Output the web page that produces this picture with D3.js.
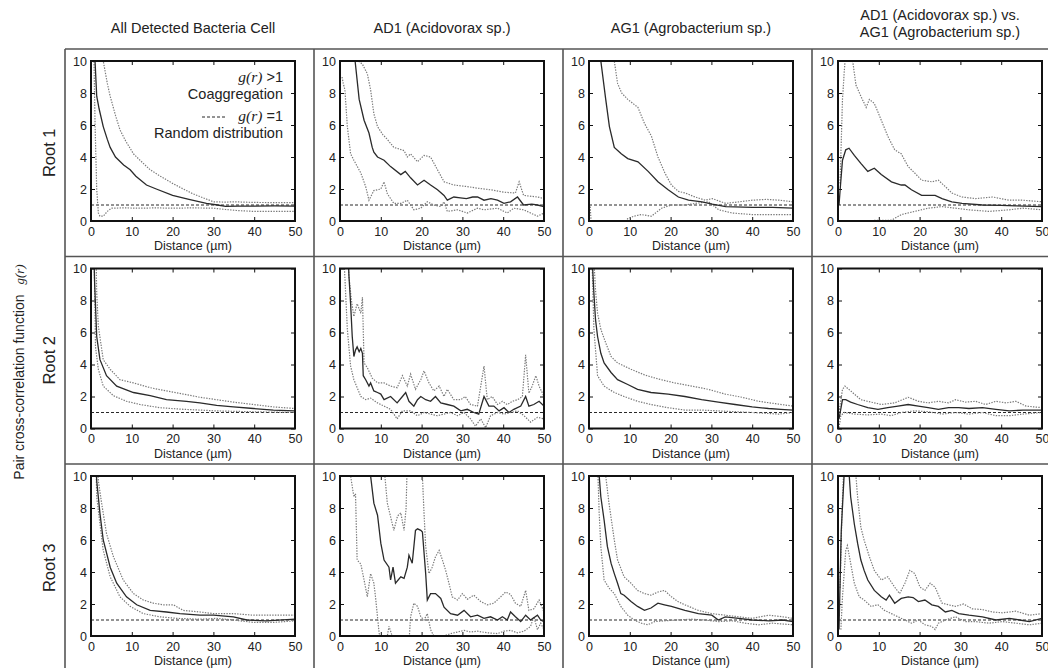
<!DOCTYPE html>
<html><head><meta charset="utf-8">
<script src="https://cdn.jsdelivr.net/npm/d3@7"></script>
<style>
body{margin:0;background:#fff;}
svg{display:block;font-family:Arial,"Liberation Sans",sans-serif;}
</style></head><body>
<svg id="chart" width="1048" height="668"></svg>
<script>
// Column headings, row headings and tick values
const columnTitles = [["All Detected Bacteria Cell"], ["AD1 (Acidovorax sp.)"], ["AG1 (Agrobacterium sp.)"], ["AD1 (Acidovorax sp.) vs.", "AG1 (Agrobacterium sp.)"]];
const rowTitles = ["Root 1", "Root 2", "Root 3"];
const xTicks = [0, 10, 20, 30, 40, 50];
const yTicks = [0, 2, 4, 6, 8, 10];
const randomLevel = 1;

// g(r) curves as [distance µm, g(r)] : observed mean plus upper / lower envelopes
const root1AllMean = [[0.4,16],[0.8,11],[1.4,7.8],[2,7.0],[3,5.9],[4,5.1],[4.7,4.6],[6,4.0],[8,3.5],[9.6,3.2],[11,2.8],[13.6,2.25],[16,2.0],[20,1.6],[24,1.35],[28.3,1.1],[31,1.0],[33,0.92],[36,0.93],[40,0.93],[45,0.94],[50,0.93]];
const root1AllUpper = [[2.2,16],[3,10],[4,8.6],[4.7,7.8],[6,6.6],[7.1,5.7],[8.5,5.0],[10.4,4.2],[12,3.8],[14.5,3.2],[17,2.8],[20,2.35],[23,1.95],[25,1.7],[28,1.4],[30,1.2],[33,1.18],[35,1.2],[40,1.16],[45,1.15],[50,1.15]];
const root1AllLower = [[0.6,12],[1,6],[1.4,2],[1.8,0.5],[2.2,0.3],[3,0.3],[4,0.6],[5,0.8],[8,0.82],[12,0.8],[16,0.82],[20,0.8],[25,0.82],[30,0.8],[33,0.72],[36,0.65],[40,0.6],[45,0.6],[50,0.6]];

const root1Ad1Mean = [[3.2,12],[3.7,10],[4.7,7.6],[5.9,6.3],[7.1,5.5],[7.9,4.6],[8.3,4.3],[9.2,4.0],[10.8,3.8],[12.4,3.4],[14.9,2.9],[16,3.1],[17.3,2.7],[19,2.25],[20.6,2.55],[22.2,2.25],[23.9,1.95],[25.5,1.6],[26.3,1.3],[27.9,1.5],[29.5,1.45],[31,1.4],[32.5,1.5],[33.7,1.5],[35.3,1.3],[37,1.4],[38.6,1.3],[40.2,1.1],[41.8,1.2],[43.5,1.5],[45,1.0],[47,1.05],[48.4,1.0],[50,0.9]];
const root1Ad1Upper = [[3.8,12],[4.5,10],[5.5,9.8],[6.7,9.2],[7.5,8.2],[8.3,6.7],[9.2,5.9],[10.5,5.4],[11.6,5.1],[13.2,4.6],[14.5,4.5],[15.7,4.4],[16.5,4.0],[17.3,4.2],[19,3.7],[20.6,4.1],[22.2,4.0],[23.9,3.2],[25.5,2.45],[27.9,2.25],[31.2,2.15],[33.7,2.05],[36.9,1.95],[40.2,1.8],[43,1.75],[43.9,2.45],[45,1.6],[48.4,1.5],[50,1.4]];
const root1Ad1Lower = [[0.5,9],[0.8,8.6],[1.2,8.2],[1.8,5.9],[2.6,4.2],[3.4,3.8],[5.1,3.0],[6.3,2.15],[7.1,1.3],[8.3,1.9],[10,2.0],[10.8,2.45],[11.6,1.7],[13.2,1.1],[14.9,1.1],[16.5,1.3],[18.1,0.7],[19.8,0.8],[21.4,1.2],[23,1.0],[24.7,0.9],[25.5,1.2],[26.3,0.6],[28.8,0.7],[31.2,0.5],[33.7,0.8],[35.3,0.7],[38.6,0.8],[41,0.5],[42.6,0.8],[45,0.7],[48.4,0.3],[50,0.5]];

const root1Ag1Mean = [[2.5,12],[2.9,10],[4.1,7.6],[5,5.9],[6.2,4.6],[7.9,4.2],[9.5,3.9],[12,3.7],[14.5,3.1],[16.9,2.45],[19.4,1.95],[21.9,1.5],[24.4,1.3],[27.7,1.2],[30.2,1.05],[33.5,0.9],[40,0.85],[45,0.85],[50,0.8]];
const root1Ag1Upper = [[5.8,12],[6.2,10],[7,8.6],[8,8.0],[9.5,7.6],[12,7.1],[13.6,6.1],[15.3,5.3],[16.9,4.0],[18.6,3.0],[20.2,2.25],[21.9,1.85],[23.6,1.75],[26,1.5],[28.5,1.3],[30.2,1.4],[33.5,1.1],[36.8,1.2],[40,1.3],[43.4,1.35],[46.7,1.3],[50,1.2]];
const root1Ag1Lower = [[0.3,0.9],[0.5,0],[9,0],[9.5,0.15],[11,0.3],[12.8,0.4],[15.3,0.3],[17.8,0.8],[20.2,1.0],[23.6,1.0],[26,1.1],[29.3,1.2],[31.8,0.7],[35.1,0.5],[40,0.4],[45,0.4],[50,0.4]];

const root1PairMean = [[0.25,1.0],[0.6,2.2],[1.1,3.8],[1.9,4.45],[2.7,4.55],[4,4.1],[5.6,3.6],[7.3,3.1],[8.9,3.3],[10.6,2.9],[13.1,2.45],[15.5,2.25],[16.4,2.25],[18,1.95],[20.5,1.6],[23.8,1.6],[25.5,1.4],[27.9,1.2],[30.4,1.1],[35.4,1.0],[40,0.98],[43.6,0.95],[50,0.9]];
const root1PairUpper = [[0.5,2.35],[1.1,7.6],[1.5,9.2],[2,11],[3.2,11],[3.6,10],[4.4,8.5],[5.6,7.8],[6.9,7.1],[7.7,7.6],[8.9,7.35],[10.6,6.3],[12.2,5.3],[13.9,4.45],[15.5,4.2],[17.2,3.4],[18.8,3.0],[20.5,2.55],[23,2.45],[24.6,2.55],[26.3,2.15],[27.9,1.75],[30.4,1.5],[33.7,1.4],[37.9,1.5],[42,1.3],[45.3,1.3],[50,1.2]];
const root1PairLower = [[0.25,0],[13.1,0.05],[15.5,0.4],[18.8,0.6],[22.1,0.8],[25.5,0.9],[28.8,0.8],[32,0.7],[37,0.6],[42,0.7],[45.3,0.8],[50,0.7]];

const root2AllMean = [[0.6,12],[0.9,9],[1.4,5.75],[2.2,4.3],[3.8,3.3],[6.3,2.65],[10.4,2.25],[14.5,2.05],[18.5,1.8],[23.4,1.7],[26.7,1.6],[30.8,1.45],[34.9,1.35],[39.8,1.25],[44.7,1.15],[50,1.1]];
const root2AllUpper = [[1.0,14],[1.4,8.5],[1.8,6.4],[3,4.3],[4.7,3.7],[7.1,3.05],[10.4,2.85],[14.5,2.55],[18.5,2.35],[22.6,2.15],[26.7,1.95],[30.8,1.8],[34.9,1.65],[39.8,1.5],[44.7,1.35],[50,1.25]];
const root2AllLower = [[0.7,12],[1.1,5.1],[1.8,3.7],[3,2.65],[5.5,2.05],[8.7,1.7],[12,1.5],[16.9,1.3],[22.6,1.2],[30.8,1.1],[39,1.05],[50,1.0]];

const root2Ad1Mean = [[1.8,12],[2.2,9.5],[2.6,7.8],[3,5.75],[3.4,4.5],[3.8,4.9],[4.2,5.1],[4.7,4.8],[5.1,5.0],[5.5,4.7],[5.7,3.3],[6.3,3.05],[7.1,2.65],[7.5,2.85],[8.3,2.35],[9.2,2.25],[10,2.15],[10.8,1.8],[12.4,2.0],[14,1.6],[15.3,2.0],[16.1,2.25],[16.9,1.7],[18.1,1.4],[19,1.8],[19.8,2.0],[21,1.8],[22.2,1.7],[23.4,2.0],[24.7,1.6],[26.3,1.5],[27.9,1.4],[29.6,1.1],[31.2,1.2],[32.8,1.0],[34,0.9],[35.3,2.0],[36.5,1.4],[37.7,1.4],[39,1.1],[40.2,1.3],[41.4,1.0],[42.6,1.2],[44.3,1.4],[45.5,2.0],[46.3,1.4],[47.5,1.5],[48.8,1.7],[50,1.4]];
const root2Ad1Upper = [[1.6,12],[2.2,9.5],[2.8,8.0],[3.4,7.0],[4.2,7.8],[5.1,7.2],[5.5,8.2],[5.9,4.1],[6.7,3.8],[7.9,3.15],[9.2,2.85],[10.8,2.85],[12.4,2.65],[14,2.55],[15.3,3.3],[16.5,2.65],[17.3,3.4],[18.5,2.45],[19.8,3.05],[20.6,3.6],[21.8,2.85],[23,2.35],[24.3,2.65],[25.5,2.0],[26.3,2.45],[27.9,1.8],[29.6,1.8],[30.7,2.0],[32,1.5],[33.7,1.4],[35.3,3.9],[36.1,1.8],[37.3,2.0],[38.6,1.5],[39.8,1.7],[41,1.5],[42.2,1.7],[43.5,1.8],[44.7,2.0],[45.5,4.6],[46.3,2.2],[47.1,2.65],[48,3.3],[48.8,2.65],[50,2.0]];
const root2Ad1Lower = [[1,10.5],[1.8,6.2],[2.6,3.9],[3.4,3.05],[4.2,2.55],[5.1,2.0],[6.3,1.8],[7.5,1.9],[9.2,1.6],[10.8,1.4],[12.4,1.2],[14,0.6],[15.3,1.1],[17.3,1.1],[19,0.8],[20.6,1.0],[22.2,0.9],[23.8,0.8],[25.5,0.9],[27.1,1.0],[28.8,0.8],[30.4,1.0],[32,0.6],[33.2,0.15],[34.5,0.6],[35.7,0.05],[36.9,0.8],[38.6,1.0],[40.2,0.9],[41.8,1.0],[43.5,1.1],[45.1,0.8],[46.7,0.4],[48.4,0.7],[50,0.6]];

const root2Ag1Mean = [[0.6,14],[0.8,10.5],[1.2,8.45],[1.6,6.8],[2.1,5.75],[2.9,4.7],[3.7,4.1],[5.4,3.5],[7,3.05],[9.5,2.75],[11.9,2.45],[15.2,2.25],[19.4,2.15],[23.5,2.0],[27.6,1.8],[31.7,1.65],[35.8,1.5],[40,1.35],[44,1.25],[47,1.2],[50,1.15]];
const root2Ag1Upper = [[0.8,14],[1.2,10.5],[1.6,8.65],[2.1,7.2],[2.9,6.2],[4.1,5.35],[5.4,4.5],[7,4.1],[10.3,3.7],[13.6,3.35],[16.9,3.1],[21,2.85],[25.1,2.65],[29.2,2.45],[33.4,2.15],[37.5,1.95],[41.6,1.7],[45.7,1.55],[50,1.4]];
const root2Ag1Lower = [[0.6,14],[0.8,10],[1.2,6.2],[2.1,3.3],[3.7,2.65],[6.2,2.25],[8.6,2.0],[11.9,1.7],[15.2,1.5],[19.4,1.3],[23.5,1.15],[27.6,1.15],[31.7,1.1],[40,1.0],[46.5,0.9],[50,1.0]];

const root2PairMean = [[0.25,0.6],[1.1,1.8],[1.9,1.8],[3.1,1.65],[4.8,1.5],[7.3,1.3],[9.8,1.2],[12.2,1.3],[14.7,1.4],[17.2,1.5],[19.7,1.4],[22.1,1.3],[24.6,1.2],[27.1,1.3],[29.6,1.3],[32.1,1.25],[35.4,1.3],[38.7,1.2],[42,1.1],[45.3,1.15],[50,1.15]];
const root2PairUpper = [[0.25,1.0],[1.1,2.45],[1.7,2.65],[3.1,2.35],[5.6,1.8],[8.1,1.65],[10.6,1.5],[13.9,1.6],[17.2,1.95],[19.7,1.7],[22.1,1.6],[24.6,1.7],[27.1,1.6],[28.8,1.8],[31.2,1.65],[33.7,1.7],[36.2,1.5],[38.7,1.7],[41.2,1.6],[43.6,1.7],[46.1,1.4],[50,1.3]];
const root2PairLower = [[0.25,0.05],[0.7,0.8],[1.5,1.0],[4,0.9],[7.3,0.85],[10.6,0.9],[13,0.8],[15.5,1.0],[18.8,1.1],[22.1,1.05],[25.5,0.9],[28.8,1.0],[32.1,0.9],[35.4,1.0],[38.7,0.8],[42,0.8],[45.3,0.9],[50,1.0]];

const root3AllMean = [[1.0,12],[1.4,9.7],[2.2,7.65],[3,6.0],[4.7,4.3],[6.3,3.3],[8.7,2.45],[11.2,1.95],[14.5,1.6],[18.5,1.5],[21.8,1.4],[26.7,1.3],[30,1.3],[34.9,1.2],[38.2,1.0],[43,0.95],[50,1.05]];
const root3AllUpper = [[1.4,12],[1.8,9.7],[2.6,8.3],[3.8,6.4],[5.5,4.95],[7.9,3.5],[10.4,2.65],[12.8,2.25],[15.3,2.05],[17.7,1.95],[20.2,1.95],[22.6,1.6],[26.7,1.5],[30,1.4],[34.9,1.4],[39.8,1.3],[45,1.3],[50,1.3]];
const root3AllLower = [[1.2,11],[1.4,8.7],[2.2,7.0],[3,5.35],[4.7,3.7],[7.1,2.45],[9.6,1.85],[12.8,1.4],[16.9,1.2],[21,1.1],[26.7,1.05],[30.8,1.1],[34.9,1.0],[39.8,0.85],[44.7,0.85],[50,0.95]];

const root3Ad1Mean = [[7,12],[7.5,10],[8.3,8.3],[9.2,7.55],[10,5.8],[10.8,4.75],[12,4.3],[12.4,3.5],[13,4.3],[13.6,3.3],[14.9,3.7],[15.7,3.6],[16.5,4.3],[16.9,5.05],[17.7,4.55],[18.5,6.6],[19,6.7],[19.8,6.6],[20.2,6.5],[21,3.9],[21.4,2.25],[22.2,2.65],[23.4,2.65],[24.7,2.35],[25.5,1.8],[27.1,1.4],[28.8,1.3],[30.4,1.6],[32,1.2],[33.7,1.3],[35.3,1.1],[36.9,1.2],[38.6,1.0],[39.8,1.2],[41,1.0],[41.8,1.5],[43,1.2],[44.3,0.9],[45.5,1.3],[46.7,1.0],[48.4,1.3],[49.2,1.0],[50,0.9]];
const root3Ad1Upper = [[10.4,12],[11,10],[11.6,8.3],[12.4,7.45],[13.2,6.6],[14.1,7.5],[14.9,7.7],[15.7,6.6],[16.2,8],[16.5,11],[20,11],[20.2,10],[20.6,7.65],[21,5.6],[21.8,3.9],[22.6,4.3],[23.4,4.95],[24.3,5.35],[25.1,4.75],[25.9,4.1],[26.7,3.3],[27.5,2.45],[28.8,2.25],[30,2.65],[31.2,2.3],[32.8,2.55],[34.5,2.15],[36.1,1.95],[37.7,2.05],[39.4,2.45],[40.6,2.75],[41.8,2.6],[43,2.05],[44.3,1.85],[45.5,2.85],[46.3,1.6],[47.5,1.7],[48.8,2.25],[50,1.5]];
const root3Ad1Lower = [[2.4,12],[2.6,10],[3.4,8.7],[3.8,8.9],[4.2,4.75],[5.1,4.5],[5.9,3.5],[6.7,2.45],[7.5,3.9],[8.3,3.3],[8.7,2.45],[9.6,0.15],[10,0],[11.6,0],[12,0.6],[12.8,0],[17,0],[17.3,1.2],[18.1,2.05],[19,1.85],[19.8,1.2],[20.6,1.0],[21.4,1.4],[22.2,0.4],[23,0],[25.5,0],[27.1,0.15],[28.8,0.25],[30.4,0.35],[32,0.25],[33.7,0.3],[36.1,0.2],[38.6,0.15],[40.2,0.3],[41.8,0.35],[43.5,0.2],[45.1,0.3],[46.7,0.6],[47.5,1.2],[48.4,0.4],[49.2,0.8],[50,0.4]];

const root3Ag1Mean = [[2.2,12],[2.5,10],[2.9,8.7],[3.7,7.25],[4.5,5.6],[5.4,4.55],[6.2,3.9],[7,3.3],[7.8,2.65],[8.6,2.55],[10.3,2.15],[11.9,1.85],[13.6,1.6],[15.2,1.75],[16.9,2.05],[18.5,1.95],[20.2,1.85],[23.5,1.6],[26.8,1.4],[30.1,1.3],[31.7,1.0],[33.4,1.2],[36.7,1.1],[40,1.0],[44.1,0.95],[47.5,1.0],[50,0.9]];
const root3Ag1Upper = [[3.8,12],[4.1,10],[4.9,8.3],[6.2,6.0],[7,4.75],[8.6,3.7],[10.3,3.3],[11.9,2.85],[13.6,2.65],[15.2,2.55],[16.9,2.75],[18.5,2.85],[20.2,2.45],[21.8,2.15],[23.5,1.95],[26.8,1.6],[30.1,1.4],[33.4,1.3],[36.7,1.2],[40,1.1],[44.1,1.3],[47.5,1.2],[50,1.1]];
const root3Ag1Lower = [[1.9,12],[2.2,10],[2.5,7.65],[2.9,5.6],[3.7,3.5],[4.9,3.0],[6.2,2.65],[7,2.25],[7.8,1.85],[9.5,1.3],[11.1,1.0],[12.8,0.8],[14.4,0.7],[16.1,0.9],[18.5,0.95],[21.8,1.0],[25.1,1.05],[28.4,1.0],[31.7,0.9],[35,0.95],[38.3,0.8],[41.6,0.7],[44.9,0.8],[50,0.7]];

const root3PairMean = [[0.25,0.4],[0.8,6.6],[1.3,9.1],[1.7,11],[2.5,11],[3.1,8.7],[4,7.0],[4.8,5.8],[5.6,4.75],[6.4,4.1],[7.3,3.5],[8.9,2.85],[10.6,2.45],[11.8,2.25],[12.6,2.55],[13.9,2.05],[15.5,2.35],[17.2,2.45],[18.4,2.4],[19.7,2.15],[21.3,2.25],[23,1.95],[24.6,1.85],[26.3,1.5],[27.9,1.6],[29.6,1.4],[32.1,1.3],[35.4,1.2],[38.7,1.0],[42,1.1],[44.5,1.0],[46.9,0.9],[50,1.1]];
const root3PairUpper = [[0.5,3],[1.0,8],[1.5,11],[4.2,11],[4.4,10],[4.8,8.7],[5.6,6.8],[6.4,6.0],[7.7,4.95],[8.9,4.1],[10.6,3.5],[12.2,3.7],[13.9,3.05],[15.1,2.65],[16.4,3.3],[17.6,4.1],[18.8,3.9],[20.1,3.05],[21.3,2.85],[22.6,3.3],[23.8,3.05],[25.5,2.05],[27.1,1.95],[28.8,1.85],[30.8,2.0],[32.9,1.7],[35.4,1.65],[37.9,1.5],[40.3,1.45],[43.6,1.55],[46.9,1.3],[50,1.4]];
const root3PairLower = [[0.7,0.4],[1.1,2.45],[1.9,5.35],[2.3,5.65],[3.1,4.55],[4,3.3],[5.2,2.45],[6.4,2.25],[8.1,1.85],[9.8,1.95],[11.4,1.6],[13.1,1.4],[14.7,1.2],[16.4,1.0],[18,0.8],[19.7,1.0],[21.3,0.7],[23,0.6],[23.8,0.4],[24.6,0.8],[26.3,1.0],[28.8,1.2],[31.2,0.9],[33.7,0.9],[37,0.8],[40.3,0.9],[43.6,0.8],[46.9,0.7],[50,0.8]];

// Panel table: [row][column] -> curves
const panelCurves = [
  [[root1AllMean, root1AllUpper, root1AllLower], [root1Ad1Mean, root1Ad1Upper, root1Ad1Lower], [root1Ag1Mean, root1Ag1Upper, root1Ag1Lower], [root1PairMean, root1PairUpper, root1PairLower]],
  [[root2AllMean, root2AllUpper, root2AllLower], [root2Ad1Mean, root2Ad1Upper, root2Ad1Lower], [root2Ag1Mean, root2Ag1Upper, root2Ag1Lower], [root2PairMean, root2PairUpper, root2PairLower]],
  [[root3AllMean, root3AllUpper, root3AllLower], [root3Ad1Mean, root3Ad1Upper, root3Ad1Lower], [root3Ag1Mean, root3Ag1Upper, root3Ag1Lower], [root3PairMean, root3PairUpper, root3PairLower]]
];

// ---- layout ----
const svg = d3.select("#chart");
const gridLeft = 65, gridTop = 49, cellW = 249, cellH = 207.5;
const plotOffX = 26, plotOffY = 12, plotW = 204, plotH = 160;
const gridColor = "#555";
const ink = "#222";
const serif = "'Liberation Serif','Times New Roman',serif";

// table rules
const gridG = svg.append("g").attr("stroke", gridColor).attr("stroke-width", 1.6);
for (let c = 0; c <= 4; c++) {
  gridG.append("line").attr("x1", gridLeft + c * cellW).attr("x2", gridLeft + c * cellW)
    .attr("y1", gridTop).attr("y2", gridTop + 3 * cellH + 10);
}
for (let r = 0; r <= 3; r++) {
  gridG.append("line").attr("x1", gridLeft).attr("x2", gridLeft + 4 * cellW + 10)
    .attr("y1", gridTop + r * cellH).attr("y2", gridTop + r * cellH);
}

// column titles
columnTitles.forEach((lines, c) => {
  const cx = gridLeft + c * cellW + plotOffX + plotW / 2;
  const t = svg.append("text").attr("text-anchor", "middle").attr("font-size", 14.5).attr("fill", ink);
  const y0 = lines.length === 1 ? 33 : 20;
  lines.forEach((s, i) => t.append("tspan").attr("x", cx).attr("y", y0 + i * 17).text(s));
});

// row titles
rowTitles.forEach((s, r) => {
  const cy = gridTop + r * cellH + cellH / 2;
  svg.append("text").attr("transform", `translate(55,${cy}) rotate(-90)`)
    .attr("text-anchor", "middle").attr("font-size", 16.5).attr("fill", ink).text(s);
});

// shared y label
const yl = svg.append("text").attr("transform", "translate(24,372) rotate(-90)")
  .attr("text-anchor", "middle").attr("font-size", 14).attr("fill", ink);
yl.append("tspan").text("Pair cross-correlation function");
yl.append("tspan").attr("dx", 10).attr("font-family", serif).attr("font-style", "italic").attr("font-size", 13).text("g(r)");

const line = d3.line();

panelCurves.forEach((rowCurves, r) => {
  rowCurves.forEach((curves, c) => {
    const px = gridLeft + c * cellW + plotOffX;
    const py = gridTop + r * cellH + plotOffY;
    const x = d3.scaleLinear().domain([0, 50]).range([px, px + plotW]);
    const y = d3.scaleLinear().domain([0, 10]).range([py + plotH, py]);
    const id = `clip-${r}-${c}`;
    svg.append("clipPath").attr("id", id).append("rect")
      .attr("x", px).attr("y", py).attr("width", plotW).attr("height", plotH);

    const g = svg.append("g");
    const styleAxis = sel => {
      sel.select(".domain").remove();
      sel.selectAll("text").attr("font-size", 12.5).attr("font-family", "Arial, 'Liberation Sans', sans-serif").attr("fill", ink);
      sel.selectAll("line").attr("stroke", "#111");
    };
    g.append("g").attr("transform", `translate(0,${py + plotH})`)
      .call(d3.axisBottom(x).tickValues(xTicks).tickSizeInner(-4).tickSizeOuter(0).tickPadding(6)).call(styleAxis);
    g.append("g").attr("transform", `translate(0,${py})`)
      .call(d3.axisTop(x).tickValues(xTicks).tickSizeInner(-4).tickSizeOuter(0).tickFormat("")).call(styleAxis);
    g.append("g").attr("transform", `translate(${px},0)`)
      .call(d3.axisLeft(y).tickValues(yTicks).tickSizeInner(-4).tickSizeOuter(0).tickPadding(4)).call(styleAxis);
    g.append("g").attr("transform", `translate(${px + plotW},0)`)
      .call(d3.axisRight(y).tickValues(yTicks).tickSizeInner(-4).tickSizeOuter(0).tickFormat("")).call(styleAxis);

    g.append("text").attr("x", px + plotW / 2).attr("y", py + plotH + 29)
      .attr("text-anchor", "middle").attr("font-size", 12.5).attr("fill", ink).text("Distance (µm)");

    const plot = g.append("g").attr("clip-path", `url(#${id})`);
    // random-distribution reference
    plot.append("path").attr("d", line([[x(0), y(randomLevel)], [x(50), y(randomLevel)]]))
      .attr("fill", "none").attr("stroke", "#111").attr("stroke-width", 0.9).attr("stroke-dasharray", "3,2");
    const [mean, upper, lower] = curves;
    [upper, lower].forEach(d => {
      plot.append("path").attr("d", line(d.map(p => [x(p[0]), y(p[1])])))
        .attr("fill", "none").attr("stroke", "#7a7a7a").attr("stroke-width", 1.2).attr("stroke-dasharray", "1.4,1.3");
    });
    plot.append("path").attr("d", line(mean.map(p => [x(p[0]), y(p[1])])))
      .attr("fill", "none").attr("stroke", "#2a2a2a").attr("stroke-width", 1.3);

    g.append("rect").attr("x", px).attr("y", py).attr("width", plotW).attr("height", plotH)
      .attr("fill", "none").attr("stroke", "#111").attr("stroke-width", 2);

    // legend in first panel
    if (r === 0 && c === 0) {
      const lx = px + plotW - 12;
      const l1 = g.append("text").attr("x", lx).attr("y", py + 21).attr("text-anchor", "end").attr("font-size", 14.5).attr("fill", ink);
      l1.append("tspan").attr("font-family", serif).attr("font-style", "italic").attr("font-size", 15.5).text("g(r)");
      l1.append("tspan").text(" >1");
      g.append("text").attr("x", lx).attr("y", py + 38).attr("text-anchor", "end").attr("font-size", 14.5).attr("fill", ink).text("Coaggregation");
      const l3 = g.append("text").attr("x", lx).attr("y", py + 60).attr("text-anchor", "end").attr("font-size", 14.5).attr("fill", ink);
      l3.append("tspan").attr("font-family", serif).attr("font-style", "italic").attr("font-size", 15.5).text("g(r)");
      l3.append("tspan").text(" =1");
      g.append("line").attr("x1", px + 111).attr("x2", px + 136).attr("y1", py + 56).attr("y2", py + 56)
        .attr("stroke", "#111").attr("stroke-width", 0.9).attr("stroke-dasharray", "3,2");
      g.append("text").attr("x", lx).attr("y", py + 77).attr("text-anchor", "end").attr("font-size", 14.5).attr("fill", ink).text("Random distribution");
    }
  });
});
</script>
</body></html>
